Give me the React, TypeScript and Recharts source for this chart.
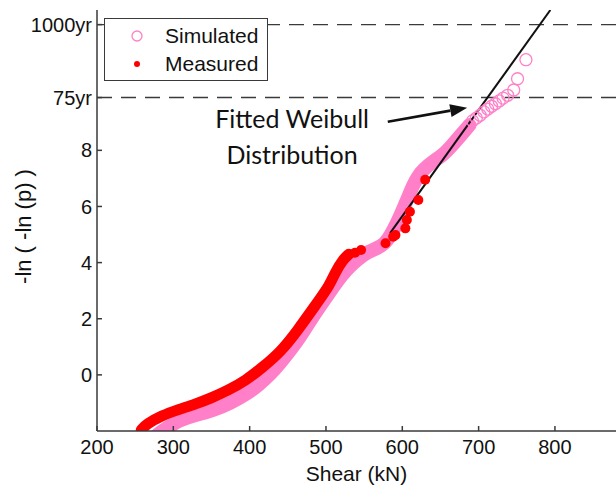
import {
  ComposedChart, Line, Scatter, XAxis, YAxis,
  ReferenceLine, ReferenceDot, Legend,
} from 'recharts'

// axis ticks
const xTicks = [200, 300, 400, 500, 600, 700, 800]
const yTicks = [0, 2, 4, 6, 8, 9.88, 12, 12.48]
const returnLevels = [9.88, 12.48]
const returnLabels = ['75yr', '1000yr']

// simulated: dense band then sparse tail
const simBandX = [272, 285, 300, 310, 330, 352, 375, 396, 412, 427, 440, 453, 466, 479, 492, 505, 515, 527, 540, 556, 568, 578, 584, 593, 601, 608, 614, 620, 627, 640, 653, 666, 677, 688]
const simBandY = [-2.3, -2.0, -1.75, -1.6, -1.42, -1.27, -1.0, -0.68, -0.35, 0.02, 0.42, 0.87, 1.35, 1.92, 2.45, 2.95, 3.35, 3.75, 4.1, 4.4, 4.52, 4.7, 4.95, 5.4, 5.9, 6.35, 6.75, 7.05, 7.3, 7.6, 7.82, 8.2, 8.55, 8.9]
const simTailX = [692, 697, 702, 707, 712, 717, 722, 727, 732, 738, 746, 751, 762]
const simTailY = [9.05, 9.15, 9.25, 9.37, 9.47, 9.57, 9.66, 9.76, 9.86, 9.96, 10.15, 10.55, 11.23]

// measured: dense band then single points
const measBandX = [258, 265, 285, 305, 330, 350, 372, 395, 416, 440, 462, 488, 505, 512, 522, 530]
const measBandY = [-1.96, -1.75, -1.45, -1.25, -1.03, -0.82, -0.55, -0.2, 0.25, 0.8, 1.55, 2.55, 3.2, 3.65, 4.1, 4.3]
const measDotX = [538, 546, 578, 588, 591, 604, 606, 610, 621, 630]
const measDotY = [4.35, 4.45, 4.69, 4.92, 4.98, 5.22, 5.52, 5.81, 6.23, 6.95]

// fitted Weibull line
const fitX = [584, 794]
const fitY = [5.05, 13.0]

const legendItems = [
  { name: 'Simulated', open: true, color: '#ff80c8' },
  { name: 'Measured', open: false, color: '#ff0000' },
]

const PINK = '#ff80c8'
const RED = '#ff0000'
const AXIS = '#3a3a3a'
const INK = '#111'
const FONT = '"Liberation Sans", Arial, sans-serif'

const zip = (xs: number[], ys: number[]) => xs.map((x, i) => ({ x, y: ys[i] }))
const simBand = zip(simBandX, simBandY)
const simTail = zip(simTailX, simTailY)
const measBand = zip(measBandX, measBandY)
const measDots = zip(measDotX, measDotY)
const fitData = zip(fitX, fitY)

const yTickLabel = (v: number) => {
  const i = returnLevels.indexOf(v)
  if (i >= 0) return returnLabels[i]
  if (v > 9) return ''
  return String(v)
}

const OpenCircle = (p: any) => (
  <circle cx={p.cx} cy={p.cy} r={6} fill="none" stroke={PINK} strokeWidth={1.3} />
)
const RedDot = (p: any) => (
  <circle cx={p.cx} cy={p.cy} r={5} fill={RED} />
)

const Arrow = (p: any) => {
  const { x1, y1, x2, y2 } = p
  const dx = x2 - x1, dy = y2 - y1
  const len = Math.sqrt(dx * dx + dy * dy)
  const ux = dx / len, uy = dy / len
  const hl = 17, hw = 6.5
  const bx = x2 - ux * hl, by = y2 - uy * hl
  return (
    <g>
      <line x1={x1} y1={y1} x2={bx} y2={by} stroke={INK} strokeWidth={2.6} />
      <polygon
        points={`${x2},${y2} ${bx - uy * hw},${by + ux * hw} ${bx + uy * hw},${by - ux * hw}`}
        fill={INK}
      />
    </g>
  )
}

const annot = (text: string) => (p: any) => (
  <text x={p.cx} y={p.cy} textAnchor="middle" fontFamily="Lato, sans-serif" fontSize={25} fill={INK}>
    {text}
  </text>
)

const LegendBox = () => (
  <div style={{
    width: 164, height: 63, boxSizing: 'border-box', border: `1.5px solid ${AXIS}`,
    background: '#fff', fontFamily: FONT, fontSize: 21, color: INK, position: 'relative',
  }}>
    {legendItems.map((it, i) => (
      <div key={it.name} style={{ position: 'absolute', left: 0, top: 4 + i * 28, height: 26, display: 'flex', alignItems: 'center' }}>
        <svg width={60} height={26}>
          {it.open
            ? <circle cx={32} cy={13} r={5} fill="none" stroke={it.color} strokeWidth={1.3} />
            : <circle cx={32} cy={13} r={3} fill={it.color} />}
        </svg>
        <span>{it.name}</span>
      </div>
    ))}
  </div>
)

export default function App() {
  return (
    <div style={{ position: 'absolute', left: 0, top: 0, width: 616, height: 486, background: '#fff' }}>
      <ComposedChart width={616} height={486} margin={{ top: 10, right: 0, bottom: 0, left: 0 }}>
        <XAxis
          dataKey="x" type="number" domain={[200, 880]} ticks={xTicks} allowDataOverflow
          height={55} stroke={AXIS} strokeWidth={1.5}
          tickSize={-5} tickMargin={14}
          tick={{ fill: INK, fontSize: 20, fontFamily: FONT }}
          label={{ value: 'Shear (kN)', position: 'insideBottom', offset: 5, fill: INK, fontSize: 21, fontFamily: FONT }}
        />
        <XAxis
          xAxisId="top" orientation="top" dataKey="x" type="number" domain={[200, 880]} ticks={xTicks}
          height={0} stroke={AXIS} strokeWidth={1.5} tickSize={-5} tickFormatter={() => ''}
        />
        <YAxis
          dataKey="y" type="number" domain={[-2, 13]} ticks={yTicks} allowDataOverflow
          width={97} stroke={AXIS} strokeWidth={1.5}
          tickSize={-5} tickMargin={10} tickFormatter={yTickLabel}
          tick={{ fill: INK, fontSize: 20, fontFamily: FONT }}
          label={{
            content: (p: any) => {
              const vb = p.viewBox
              const cx = vb.x + 23
              const cy = vb.y + vb.height / 2 + 6
              return (
                <text
                  x={cx} y={cy} transform={`rotate(-90 ${cx} ${cy})`}
                  textAnchor="middle" dominantBaseline="central"
                  fontSize={22} fontFamily={FONT} fill={INK}
                >-ln ( -ln (p) )</text>
              )
            },
          }}
        />
        {returnLevels.map((v) => (
          <ReferenceLine key={v} y={v} stroke={AXIS} strokeWidth={1.4} strokeDasharray="15 9" />
        ))}
        <Line
          data={simBand} dataKey="y" type="basis" stroke={PINK} strokeWidth={14}
          strokeLinecap="round" strokeLinejoin="round" dot={false} isAnimationActive={false}
          legendType="none"
        />
        <Scatter data={simTail} dataKey="y" shape={OpenCircle} isAnimationActive={false} />
        <Line
          data={measBand} dataKey="y" type="basis" stroke={RED} strokeWidth={11}
          strokeLinecap="round" strokeLinejoin="round" dot={false} isAnimationActive={false}
          legendType="none"
        />
        <Scatter data={measDots} dataKey="y" shape={RedDot} isAnimationActive={false} />
        <Line
          data={fitData} dataKey="y" type="linear" stroke={INK} strokeWidth={2}
          dot={false} isAnimationActive={false} legendType="none"
        />
        <ReferenceLine
          segment={[{ x: 581, y: 9.02 }, { x: 685, y: 9.52 }]}
          shape={Arrow}
        />
        <ReferenceDot x={455.6} y={8.8} r={1} shape={annot('Fitted Weibull')} />
        <ReferenceDot x={455.6} y={7.52} r={1} shape={annot('Distribution')} />
        <Legend
          layout="horizontal" verticalAlign="middle" align="center"
          wrapperStyle={{ left: 104, top: 18, width: 'auto', height: 'auto' }}
          content={LegendBox}
        />
      </ComposedChart>
    </div>
  )
}
